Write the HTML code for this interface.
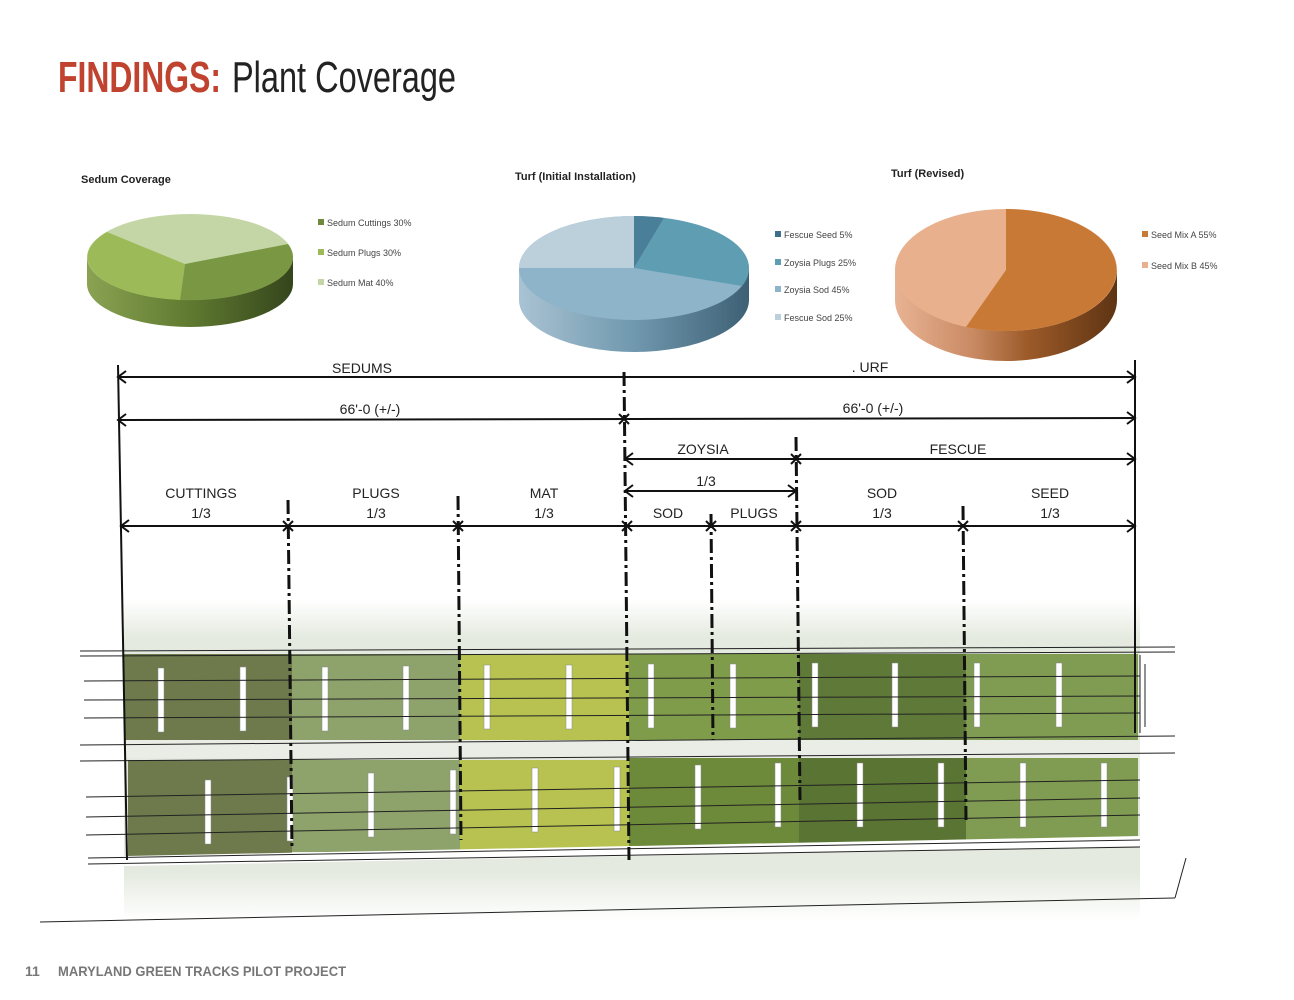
<!DOCTYPE html>
<html><head><meta charset="utf-8"><style>
html,body{margin:0;padding:0;background:#fff}
svg{display:block}
text{font-family:"Liberation Sans",sans-serif}
</style></head><body>
<svg width="1294" height="1000" viewBox="0 0 1294 1000" xmlns="http://www.w3.org/2000/svg">
<defs>
<linearGradient id="gside1" x1="0" x2="1"><stop offset="0" stop-color="#8aa252"/><stop offset="0.5" stop-color="#5f7a30"/><stop offset="1" stop-color="#35451c"/></linearGradient>
<linearGradient id="gside2" x1="0" x2="1"><stop offset="0" stop-color="#a9c3d3"/><stop offset="0.5" stop-color="#7098ae"/><stop offset="1" stop-color="#3e6075"/></linearGradient>
<linearGradient id="gside3" x1="0" x2="1"><stop offset="0" stop-color="#e8b393"/><stop offset="0.35" stop-color="#c98a63"/><stop offset="0.6" stop-color="#9c5a28"/><stop offset="1" stop-color="#5e3413"/></linearGradient>
<linearGradient id="bg" x1="0" y1="0" x2="0" y2="1"><stop offset="0" stop-color="#fff"/><stop offset="0.12" stop-color="#e4eadf"/><stop offset="0.85" stop-color="#e4eadf"/><stop offset="1" stop-color="#fff"/></linearGradient>
</defs>

<text x="58" y="92" font-size="44" font-weight="bold" fill="#c0432f" textLength="163" lengthAdjust="spacingAndGlyphs">FINDINGS:</text>
<text x="232" y="92" font-size="44" fill="#222" textLength="224" lengthAdjust="spacingAndGlyphs">Plant Coverage</text>

<!-- Sedum pie -->
<text x="81" y="183" font-size="11" font-weight="bold" fill="#222">Sedum Coverage</text>
<path d="M87,257 L87,284 A103,43 0 0 0 293,284 L293,257 Z" fill="url(#gside1)"/>
<ellipse cx="190" cy="257" rx="103" ry="43" fill="#c5d6a6"/>
<path d="M185,264 L107,232 A103,43 0 0 0 180,300 Z" fill="#9cbb58"/>
<path d="M185,264 L180,300 A103,43 0 0 0 288,244 Z" fill="#7a9843"/>
<rect x="318" y="219" width="6" height="6" fill="#6f8a3c"/><text x="327" y="226" font-size="9" fill="#444">Sedum Cuttings 30%</text>
<rect x="318" y="249" width="6" height="6" fill="#9cbb58"/><text x="327" y="256" font-size="9" fill="#444">Sedum Plugs 30%</text>
<rect x="318" y="279" width="6" height="6" fill="#c5d6a6"/><text x="327" y="286" font-size="9" fill="#444">Sedum Mat 40%</text>

<!-- Turf initial -->
<text x="515" y="180" font-size="11" font-weight="bold" fill="#222">Turf (Initial Installation)</text>
<path d="M519,268 L519,300 A115,52 0 0 0 749,300 L749,268 Z" fill="url(#gside2)"/>
<ellipse cx="634" cy="268" rx="115" ry="52" fill="#8db4c8"/>
<path d="M634,268 L519,268 A115,52 0 0 1 634,216 Z" fill="#bcd0dc"/>
<path d="M634,268 L634,216 A115,52 0 0 1 664,218 Z" fill="#4a7f99"/>
<path d="M634,268 L664,218 A115,52 0 0 1 742,286 Z" fill="#5f9db3"/>
<rect x="775" y="231" width="6" height="6" fill="#3d6f8a"/><text x="784" y="238" font-size="9" fill="#444">Fescue Seed 5%</text>
<rect x="775" y="259" width="6" height="6" fill="#5f9db3"/><text x="784" y="266" font-size="9" fill="#444">Zoysia Plugs 25%</text>
<rect x="775" y="286" width="6" height="6" fill="#8db4c8"/><text x="784" y="293" font-size="9" fill="#444">Zoysia Sod 45%</text>
<rect x="775" y="314" width="6" height="6" fill="#bcd0dc"/><text x="784" y="321" font-size="9" fill="#444">Fescue Sod 25%</text>

<!-- Turf revised -->
<text x="891" y="177" font-size="11" font-weight="bold" fill="#222">Turf (Revised)</text>
<path d="M895,270 L895,300 A111,61 0 0 0 1117,300 L1117,270 Z" fill="url(#gside3)"/>
<ellipse cx="1006" cy="270" rx="111" ry="61" fill="#e8b08d"/>
<path d="M1006,270 L1006,209 A111,61 0 1 1 966,327 Z" fill="#c87935"/>
<rect x="1142" y="231" width="6" height="6" fill="#c87935"/><text x="1151" y="238" font-size="9" fill="#444">Seed Mix A 55%</text>
<rect x="1142" y="262" width="6" height="6" fill="#e8b08d"/><text x="1151" y="269" font-size="9" fill="#444">Seed Mix B 45%</text>

<!-- plan background -->
<rect x="124" y="600" width="1016" height="320" fill="url(#bg)"/>
<g>
<rect x="124" y="654" width="168" height="86" fill="#6e7a4c"/>
<rect x="292" y="654" width="168" height="86" fill="#8ea26c"/>
<rect x="460" y="654" width="169" height="86" fill="#b7c250"/>
<rect x="629" y="654" width="170" height="86" fill="#7f9c4a"/>
<rect x="799" y="654" width="167" height="86" fill="#5f7a38"/>
<rect x="966" y="654" width="172" height="86" fill="#7f9c52"/>
<rect x="128" y="760" width="164" height="96" fill="#6e7a4c"/>
<rect x="292" y="760" width="168" height="92" fill="#8ea26c"/>
<rect x="460" y="760" width="169" height="90" fill="#b7c250"/>
<rect x="629" y="758" width="170" height="90" fill="#6d8a3a"/>
<rect x="799" y="758" width="167" height="88" fill="#5a7434"/>
<rect x="966" y="758" width="172" height="86" fill="#7f9c52"/>
<polygon points="124,856 1140,836 1140,846 124,866" fill="#fff"/>
<rect x="124" y="740" width="1016" height="18" fill="#e9ede5"/>
</g>
<g fill="#fff" stroke="#888" stroke-width="0.5">
<rect x="158" y="668" width="6" height="64"/><rect x="240" y="667" width="6" height="64"/>
<rect x="322" y="667" width="6" height="64"/><rect x="403" y="666" width="6" height="64"/>
<rect x="484" y="665" width="6" height="64"/><rect x="566" y="665" width="6" height="64"/>
<rect x="648" y="664" width="6" height="64"/><rect x="730" y="664" width="6" height="64"/>
<rect x="812" y="663" width="6" height="64"/><rect x="892" y="663" width="6" height="64"/>
<rect x="974" y="663" width="6" height="64"/><rect x="1056" y="663" width="6" height="64"/>
<rect x="205" y="780" width="6" height="64"/><rect x="287" y="777" width="6" height="64"/>
<rect x="368" y="773" width="6" height="64"/><rect x="450" y="770" width="6" height="64"/>
<rect x="532" y="768" width="6" height="64"/><rect x="614" y="767" width="6" height="64"/>
<rect x="695" y="765" width="6" height="64"/><rect x="775" y="763" width="6" height="64"/>
<rect x="857" y="763" width="6" height="64"/><rect x="938" y="763" width="6" height="64"/>
<rect x="1020" y="763" width="6" height="64"/><rect x="1101" y="763" width="6" height="64"/>
</g>
<g stroke="#222" stroke-width="1" fill="none">
<line x1="80" y1="651" x2="1175" y2="647"/><line x1="80" y1="656" x2="1175" y2="652"/>
<line x1="84" y1="681" x2="1140" y2="676"/><line x1="84" y1="700" x2="1140" y2="696"/><line x1="84" y1="718" x2="1140" y2="713"/>
<line x1="80" y1="745" x2="1175" y2="736"/><line x1="80" y1="761" x2="1175" y2="753"/>
<line x1="86" y1="797" x2="1140" y2="780"/><line x1="86" y1="817" x2="1140" y2="798"/><line x1="86" y1="835" x2="1140" y2="815"/>
<line x1="88" y1="858" x2="1140" y2="840"/><line x1="88" y1="864" x2="1140" y2="847"/>
<line x1="40" y1="922" x2="1175" y2="898"/><line x1="1175" y1="898" x2="1186" y2="858"/>
<line x1="1140" y1="655" x2="1140" y2="733"/><line x1="1145" y1="664" x2="1145" y2="727"/>
</g>

<g stroke="#111" stroke-width="2" fill="none">
<line x1="118" y1="365" x2="127" y2="860"/>
<line x1="1135" y1="360" x2="1135" y2="733"/>
<line x1="118" y1="377" x2="1135" y2="377"/>
<line x1="118" y1="420" x2="1135" y2="418"/>
<line x1="625" y1="459" x2="1135" y2="459"/>
<line x1="625" y1="491" x2="796" y2="491"/>
<line x1="121" y1="526" x2="1135" y2="526"/>
<polyline points="126,371 118,377 126,383"/><polyline points="1127,371 1135,377 1127,383"/>
<polyline points="126,414 118,420 126,426"/><polyline points="1127,412 1135,418 1127,424"/>
<polyline points="633,453 625,459 633,465"/><polyline points="1127,453 1135,459 1127,465"/>
<polyline points="633,485 625,491 633,497"/><polyline points="788,485 796,491 788,497"/>
<polyline points="129,520 121,526 129,532"/><polyline points="1127,520 1135,526 1127,532"/>
</g>
<g stroke="#111" stroke-width="3" fill="none" stroke-dasharray="14,4,3,4">
<line x1="624" y1="372" x2="629" y2="860"/>
<line x1="288" y1="500" x2="292" y2="850"/>
<line x1="458" y1="496" x2="461" y2="840"/>
<line x1="711" y1="514" x2="713" y2="740"/>
<line x1="796" y1="437" x2="800" y2="800"/>
<line x1="963" y1="506" x2="966" y2="820"/>
</g>
<g stroke="#111" stroke-width="2">
<path d="M619,414 l10,10 M629,414 l-10,10"/>
<path d="M791,454 l10,10 M801,454 l-10,10"/>
<path d="M283,521 l10,10 M293,521 l-10,10"/>
<path d="M453,521 l10,10 M463,521 l-10,10"/>
<path d="M622,521 l10,10 M632,521 l-10,10"/>
<path d="M706,521 l10,10 M716,521 l-10,10"/>
<path d="M791,521 l10,10 M801,521 l-10,10"/>
<path d="M958,521 l10,10 M968,521 l-10,10"/>
</g>
<g font-size="14" fill="#222" text-anchor="middle">
<text x="362" y="373">SEDUMS</text><text x="870" y="372">. URF</text>
<text x="370" y="414">66'-0 (+/-)</text><text x="873" y="413">66'-0 (+/-)</text>
<text x="703" y="454">ZOYSIA</text><text x="958" y="454">FESCUE</text>
<text x="706" y="486">1/3</text>
<text x="201" y="498">CUTTINGS</text><text x="201" y="518">1/3</text>
<text x="376" y="498">PLUGS</text><text x="376" y="518">1/3</text>
<text x="544" y="498">MAT</text><text x="544" y="518">1/3</text>
<text x="668" y="518">SOD</text><text x="754" y="518">PLUGS</text>
<text x="882" y="498">SOD</text><text x="882" y="518">1/3</text>
<text x="1050" y="498">SEED</text><text x="1050" y="518">1/3</text>
</g>

<text x="25" y="976" font-size="14" fill="#777" font-weight="bold">11</text>
<text x="58" y="976" font-size="14" fill="#777" font-weight="bold" textLength="288" lengthAdjust="spacingAndGlyphs">MARYLAND GREEN TRACKS PILOT PROJECT</text>
</svg>
</body></html>
